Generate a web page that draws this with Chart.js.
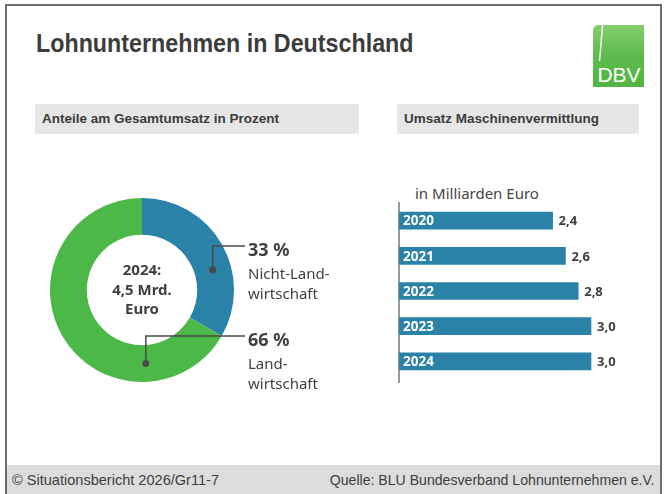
<!DOCTYPE html>
<html lang="de">
<head>
<meta charset="utf-8">
<title>Lohnunternehmen in Deutschland</title>
<script src="https://cdn.jsdelivr.net/npm/chart.js@4.4.1/dist/chart.umd.min.js"></script>
<style>
  html, body { margin: 0; padding: 0; background: #fff; }
  #page { position: relative; width: 664px; height: 494px; overflow: hidden;
          font-family: "Noto Sans", sans-serif; color: #3f3f3f; }
  #frame { position: absolute; left: 5px; top: 4px; width: 653px; height: 520px;
           border: 2px solid #6e6e6e; box-sizing: content-box; }
  #title { position: absolute; left: 36px; top: 30px; font: bold 26px/26px "Liberation Sans", sans-serif;
           color: #3c3c3c; white-space: nowrap; transform: scaleX(0.895); transform-origin: 0 0; }
  #logo { position: absolute; left: 593px; top: 25px; }
  .band { position: absolute; top: 104px; height: 30px; background: #e6e6e6;
          font: bold 13.5px/30px "Liberation Sans", sans-serif; color: #3c3c3c;
          padding-left: 7px; box-sizing: border-box; white-space: nowrap; }
  #unit { position: absolute; left: 415px; top: 183px; font: 15px/20px "Noto Sans", sans-serif; color: #444; }
  #footer { position: absolute; left: 7px; top: 465px; width: 653px; height: 40px; background: #dcdcdc;
            font: 15px/30px "Liberation Sans", sans-serif; color: #3f3f3f; }
  #footer span { position: absolute; top: 0; white-space: nowrap; }
  #footer .l { left: 5px; transform: scaleX(0.97); transform-origin: 0 0; }
  #footer .r { right: 5px; transform: scaleX(0.94); transform-origin: 100% 0; }
  canvas { position: absolute; }
</style>
</head>
<body>
<div id="page">
  <div id="frame"></div>
  <div id="title">Lohnunternehmen in Deutschland</div>
  <svg id="logo" width="51" height="62" viewBox="0 0 51 62">
    <defs>
      <linearGradient id="lg" x1="0" y1="0" x2="0" y2="1">
        <stop offset="0" stop-color="#86cc6e"/>
        <stop offset="0.5" stop-color="#5dbb4c"/>
        <stop offset="1" stop-color="#52b542"/>
      </linearGradient>
    </defs>
    <path d="M6 0 H51 V62 H0 V6 Q0 0 6 0 Z" fill="url(#lg)"/>
    <path d="M9.5 0 Q8 20 6.5 36" stroke="#fff" stroke-width="1.4" fill="none"/>
    <text x="26" y="57" text-anchor="middle" fill="#fff" font-family="Liberation Sans, sans-serif" font-size="21">DBV</text>
  </svg>
  <div class="band" style="left:35px;width:324px;">Anteile am Gesamtumsatz in Prozent</div>
  <div class="band" style="left:397px;width:242px;">Umsatz Maschinenvermittlung</div>
  <div id="unit">in Milliarden Euro</div>
  <canvas id="donut" width="320" height="220" style="left:30px;top:180px;"></canvas>
  <canvas id="bars" width="280" height="215" style="left:380px;top:175px;"></canvas>
  <div id="footer">
    <span class="l">© Situationsbericht 2026/Gr11-7</span>
    <span class="r">Quelle: BLU Bundesverband Lohnunternehmen e.V.</span>
  </div>
</div>
<script>
// --- data ---
const shareNames  = [['Nicht-Land-', 'wirtschaft'], ['Land-', 'wirtschaft']];
const shareValues = [33, 66];
const shareColors = ['#2b82a8', '#4cb848'];
const centerLines = ['2024:', '4,5 Mrd.', 'Euro'];

const years   = ['2020', '2021', '2022', '2023', '2024'];
const revenue = [2.4, 2.6, 2.8, 3.0, 3.0];

const TEXT = '#3f3f3f';
const fmt = v => v.toFixed(1).replace('.', ',');

// center text + leader lines for the ring
const ringLabels = {
  id: 'ringLabels',
  afterDatasetsDraw(chart) {
    const ctx = chart.ctx;
    const arcs = chart.getDatasetMeta(0).data;
    const c = arcs[0];
    ctx.save();
    ctx.fillStyle = TEXT;
    ctx.font = 'bold 15px "Noto Sans"';
    ctx.textAlign = 'center';
    ctx.textBaseline = 'middle';
    centerLines.forEach((t, i) => ctx.fillText(t, c.x, c.y - 19 + i * 19.5));

    // dot angle (deg from top, clockwise), elbow y and label x, in canvas px
    const spots = [{ a: 74, ey: 66, lx: 218 }, { a: 177, ey: 156, lx: 218 }];
    const rMid = (c.innerRadius + c.outerRadius) / 2;
    spots.forEach((s, i) => {
      const ang = s.a * Math.PI / 180;
      const dx = c.x + Math.sin(ang) * rMid, dy = c.y - Math.cos(ang) * rMid;
      ctx.strokeStyle = '#4a4a4a'; ctx.lineWidth = 1.5;
      ctx.beginPath();
      ctx.moveTo(dx, dy); ctx.lineTo(dx, s.ey); ctx.lineTo(s.lx - 3, s.ey);
      ctx.stroke();
      ctx.fillStyle = '#4a4a4a';
      ctx.beginPath(); ctx.arc(dx, dy, 3.5, 0, Math.PI * 2); ctx.fill();

      ctx.fillStyle = TEXT;
      ctx.textAlign = 'left';
      ctx.textBaseline = 'alphabetic';
      ctx.font = 'bold 18px "Noto Sans"';
      ctx.fillText(shareValues[i] + ' %', s.lx, s.ey + 10);
      ctx.font = '15px "Noto Sans"';
      shareNames[i].forEach((t, j) => ctx.fillText(t, s.lx, s.ey + 33 + j * 20));
    });
    ctx.restore();
  }
};

new Chart(document.getElementById('donut'), {
  type: 'doughnut',
  data: {
    labels: shareNames.map(n => n.join('')),
    datasets: [{ data: shareValues, backgroundColor: shareColors, borderWidth: 0 }]
  },
  options: {
    responsive: false, animation: false, cutout: '60%',
    layout: { padding: { left: 20, top: 18, right: 116, bottom: 18 } },
    plugins: { legend: { display: false }, tooltip: { enabled: false } }
  },
  plugins: [ringLabels]
});

// axis line + year labels inside bars + values after bars
const barLabels = {
  id: 'barLabels',
  beforeDatasetsDraw(chart) {
    const { ctx, chartArea: a } = chart;
    ctx.save();
    ctx.strokeStyle = '#9a9a9a'; ctx.lineWidth = 2;
    ctx.beginPath(); ctx.moveTo(a.left, a.top - 1); ctx.lineTo(a.left, a.bottom + 4); ctx.stroke();
    ctx.restore();
  },
  afterDatasetsDraw(chart) {
    const ctx = chart.ctx;
    ctx.save();
    ctx.textBaseline = 'middle';
    chart.getDatasetMeta(0).data.forEach((bar, i) => {
      ctx.font = 'bold 13.5px "Noto Sans"';
      ctx.fillStyle = '#fff';
      ctx.fillText(years[i], bar.base + 4, bar.y + 1);
      ctx.font = 'bold 13px "Noto Sans"';
      ctx.fillStyle = TEXT;
      ctx.fillText(fmt(revenue[i]), bar.x + 6, bar.y + 1);
    });
    ctx.restore();
  }
};

new Chart(document.getElementById('bars'), {
  type: 'bar',
  data: {
    labels: years,
    datasets: [{ data: revenue, backgroundColor: '#2b82a8', barThickness: 17 }]
  },
  options: {
    indexAxis: 'y', responsive: false, animation: false,
    layout: { padding: { left: 19, top: 28, right: 21, bottom: 11 } },
    scales: { x: { display: false, min: 0, max: 3.75 }, y: { display: false } },
    plugins: { legend: { display: false }, tooltip: { enabled: false } }
  },
  plugins: [barLabels]
});
</script>
</body>
</html>
